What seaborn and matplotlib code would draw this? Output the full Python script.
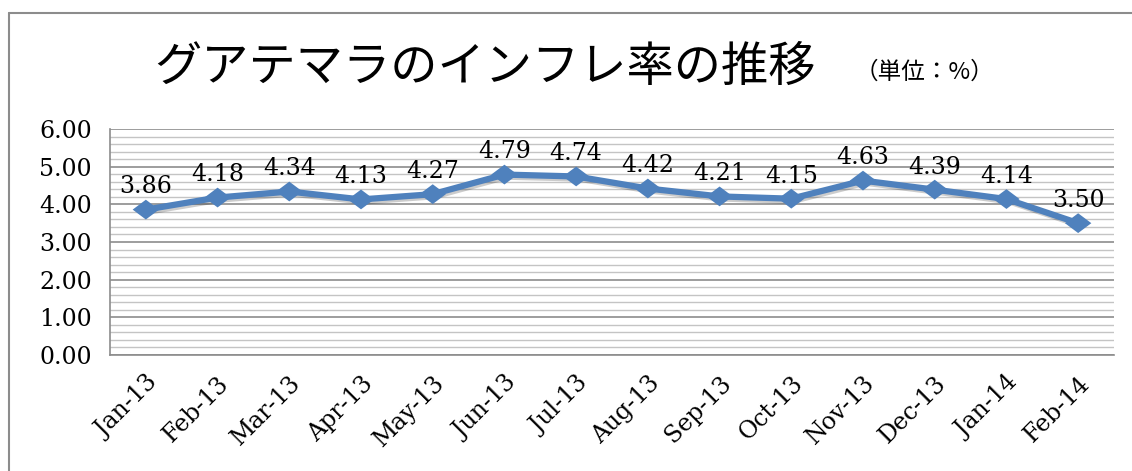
import matplotlib
matplotlib.use('Agg')
from matplotlib import pyplot as plt
from matplotlib.lines import Line2D
import matplotlib.patheffects as pe
import seaborn as sns
import pandas as pd
import numpy as np

months = ['Jan-13', 'Feb-13', 'Mar-13', 'Apr-13', 'May-13', 'Jun-13', 'Jul-13',
          'Aug-13', 'Sep-13', 'Oct-13', 'Nov-13', 'Dec-13', 'Jan-14', 'Feb-14']
inflation = [3.86, 4.18, 4.34, 4.13, 4.27, 4.79, 4.74, 4.42, 4.21, 4.15, 4.63, 4.39, 4.14, 3.50]
yticks = [0, 1, 2, 3, 4, 5, 6]
title = 'グアテマラのインフレ率の推移'
unit = '（単位：%）'

sns.set_style('white')
plt.rcParams['font.family'] = ['DejaVu Serif', 'Noto Sans CJK JP']

df = pd.DataFrame({'month': months, 'rate': inflation})

fig = plt.figure(figsize=(11.32, 4.71), dpi=100)
ax = fig.add_axes([110 / 1132, 1 - 355 / 471, 1004 / 1132, 226 / 471])

blue = '#4F81BD'
diamond = [(-1, 0), (0, 0.75), (1, 0), (0, -0.75), (-1, 0)]
shadow = [pe.SimpleLineShadow(offset=(1.5, -1.5), alpha=0.2), pe.Normal()]
sns.lineplot(data=df, x='month', y='rate', sort=False, color=blue, linewidth=4.5,
             marker=diamond, markersize=19, markeredgewidth=0, ax=ax,
             path_effects=shadow)

for i, v in enumerate(inflation):
    ax.annotate('%.2f' % v, (i, v), xytext=(0, 8), textcoords='offset points',
                ha='center', va='bottom', fontsize=17, family='DejaVu Serif',
                color='black')

# grid: major every 1, minor every 0.2
ax.set_ylim(0, 6)
ax.set_xlim(-0.5, len(months) - 0.5)
ax.set_yticks(yticks)
ax.set_yticklabels(['%.2f' % t for t in yticks], fontsize=17, color='black')
ax.set_yticks(np.arange(0, 6.01, 0.2), minor=True)
ax.grid(axis='y', which='major', color='#8c8c8c', linewidth=1.2)
ax.grid(axis='y', which='minor', color='#c4c4c4', linewidth=1.0)
ax.grid(axis='x', visible=False)
ax.set_axisbelow(True)

ax.set_xticks(np.arange(-0.5, len(months), 1))
ax.set_xticklabels([])
ax.set_xticks(np.arange(len(months)), minor=True)
ax.set_xticklabels(months, minor=True, rotation=45, ha='right',
                   rotation_mode='anchor', fontsize=17, color='black')
ax.tick_params(axis='x', which='major', length=8, width=1.2, color='#8c8c8c', direction='out')
ax.tick_params(axis='x', which='minor', length=0, pad=12)
ax.tick_params(axis='y', which='major', length=7, width=1.2, color='#8c8c8c', direction='out', pad=6)
ax.tick_params(axis='y', which='minor', length=0)

for s in ['top', 'right']:
    ax.spines[s].set_visible(False)
for s in ['left', 'bottom']:
    ax.spines[s].set_color('#8c8c8c')
    ax.spines[s].set_linewidth(1.2)
ax.set_xlabel('')
ax.set_ylabel('')

fig.text(485 / 1132, 1 - 68 / 471, title, ha='center', va='center', fontsize=34,
         family=['Noto Sans CJK JP'], color='black')
fig.text(855 / 1132, 1 - 72 / 471, unit, ha='left', va='center', fontsize=17,
         family=['Noto Sans CJK JP'], color='black')

# outer chart frame (left and top edges visible)
fig.add_artist(Line2D([9 / 1132, 9 / 1132], [0, 1 - 13 / 471], color='#8c8c8c', linewidth=1.5))
fig.add_artist(Line2D([9 / 1132, 1], [1 - 13 / 471, 1 - 13 / 471], color='#8c8c8c', linewidth=1.5))

fig.savefig('out.png', dpi=100)
